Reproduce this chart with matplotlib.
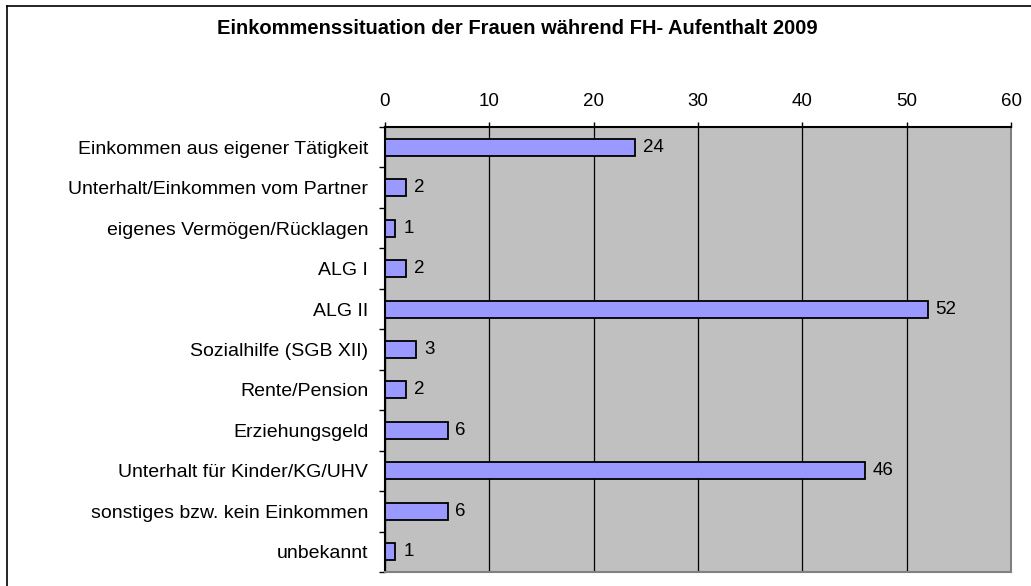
import numpy as np
import matplotlib
matplotlib.use("Agg")
import matplotlib.pyplot as plt
from matplotlib.lines import Line2D

plt.rcParams["font.family"] = ["Liberation Sans", "DejaVu Sans"]

categories = [
    "Einkommen aus eigener Tätigkeit",
    "Unterhalt/Einkommen vom Partner",
    "eigenes Vermögen/Rücklagen",
    "ALG I",
    "ALG II",
    "Sozialhilfe (SGB XII)",
    "Rente/Pension",
    "Erziehungsgeld",
    "Unterhalt für Kinder/KG/UHV",
    "sonstiges bzw. kein Einkommen",
    "unbekannt",
]
values = [24, 2, 1, 2, 52, 3, 2, 6, 46, 6, 1]
x_ticks = [0, 10, 20, 30, 40, 50, 60]

W, H = 1031, 586
fig = plt.figure(figsize=(W / 100, H / 100), dpi=100)

# outer chart border (only left and top visible in the crop)
fig.add_artist(Line2D([7 / W, 7 / W], [0, 1 - 6 / H], color="black", lw=1.2))
fig.add_artist(Line2D([7 / W, 1], [1 - 6 / H, 1 - 6 / H], color="black", lw=1.2))

ax = fig.add_axes([385 / W, 14 / H, (1011 - 385) / W, (572 - 127) / H])
ax.set_facecolor("#c0c0c0")

y = np.arange(len(categories))
ax.barh(y, values, height=0.42, color="#9999ff", edgecolor="black", linewidth=1.3, zorder=3)
for yi, v in zip(y, values):
    ax.text(v + 0.75, yi, str(v), va="center", ha="left", fontsize=13.5, zorder=4)

ax.set_xlim(0, 60)
ax.set_ylim(len(categories) - 0.5, -0.5)
ax.xaxis.tick_top()
ax.set_xticks(x_ticks)
ax.set_xticklabels([str(t) for t in x_ticks], fontsize=13.5)
ax.tick_params(axis="x", length=3.6, width=1, pad=8.5, color="black")
ax.grid(axis="x", color="black", linewidth=0.9, zorder=1)

ax.set_yticks(y)
ax.set_yticklabels(categories, fontsize=14)
ax.tick_params(axis="y", which="major", length=0, pad=12)
ax.set_yticks(np.arange(-0.5, len(categories), 1), minor=True)
ax.tick_params(axis="y", which="minor", length=4.3, width=1, color="black")

ax.spines["top"].set_color("black")
ax.spines["left"].set_color("black")
ax.spines["right"].set_color("#808080")
ax.spines["bottom"].set_color("#808080")
for s in ax.spines.values():
    s.set_linewidth(1.5)
    s.set_zorder(5)

fig.text(517 / W, 1 - 29 / H, "Einkommenssituation der Frauen während FH- Aufenthalt 2009",
         ha="center", va="center", fontsize=14.5, fontweight="bold")

fig.savefig("out.png", dpi=100)
